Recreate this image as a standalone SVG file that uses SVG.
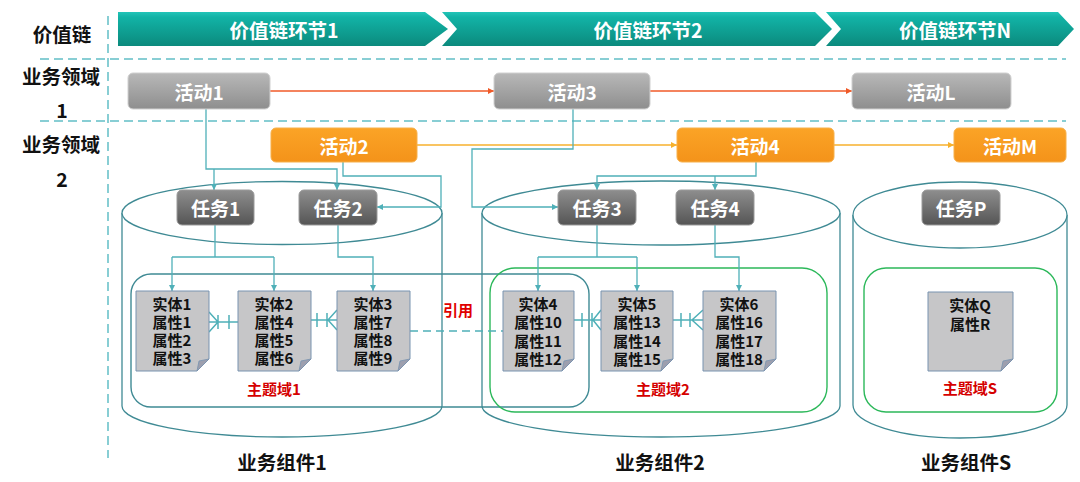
<svg xmlns="http://www.w3.org/2000/svg" width="1080" height="482" viewBox="0 0 1080 482">
<defs>
<linearGradient id="gHead" x1="0" y1="0" x2="0" y2="1"><stop offset="0" stop-color="#22c4b8"/><stop offset="0.15" stop-color="#12b3a6"/><stop offset="1" stop-color="#0b8a7d"/></linearGradient>
<linearGradient id="gAct" x1="0" y1="0" x2="0" y2="1"><stop offset="0" stop-color="#b8b8b8"/><stop offset="1" stop-color="#8e8e8e"/></linearGradient>
<linearGradient id="gOr" x1="0" y1="0" x2="0" y2="1"><stop offset="0" stop-color="#fba426"/><stop offset="1" stop-color="#f4931a"/></linearGradient>
<linearGradient id="gTask" x1="0" y1="0" x2="0" y2="1"><stop offset="0" stop-color="#8e8e8e"/><stop offset="1" stop-color="#555555"/></linearGradient>
<marker id="aT" viewBox="0 0 10 10" refX="10" refY="5" markerWidth="6" markerHeight="6" markerUnits="userSpaceOnUse" orient="auto"><path d="M0,0 L10,5 L0,10 Z" fill="#4fb0b8"/></marker>
<marker id="aR" viewBox="0 0 10 10" refX="10" refY="5" markerWidth="6" markerHeight="6" markerUnits="userSpaceOnUse" orient="auto"><path d="M0,0 L10,5 L0,10 Z" fill="#f05a28"/></marker>
<marker id="aO" viewBox="0 0 10 10" refX="10" refY="5" markerWidth="6" markerHeight="6" markerUnits="userSpaceOnUse" orient="auto"><path d="M0,0 L10,5 L0,10 Z" fill="#f7b12c"/></marker>
<style>
text{font-family:"Noto Sans CJK SC","Noto Sans",sans-serif;font-weight:bold;text-anchor:middle;dominant-baseline:central}
.lbl{font-size:19.5px;fill:#111}
.hd{font-size:19.5px;fill:#fff}
.btn{font-size:19px;fill:#fff}
.ent{font-size:15px;fill:#111}
.red{font-size:15px;fill:#d50000}
.comp{font-size:19.5px;fill:#111}
.dash{stroke:#62bfc6;stroke-width:1.5;stroke-dasharray:9,5;fill:none}
.cyl{fill:#fff;stroke:#3f8a94;stroke-width:1.3}
.tl{fill:none;stroke:#4fb0b8;stroke-width:1.3}
.rel{fill:none;stroke:#4fb0b8;stroke-width:1.5}
.page{fill:#c6c6c8;stroke:#7893b0;stroke-width:1}
.fold{fill:#9d9fae;stroke:#7893b0;stroke-width:0.8}
.act{fill:url(#gAct);stroke:#d0d0d0;stroke-width:1}
.or{fill:url(#gOr);stroke:#f7b04a;stroke-width:1}
.task{fill:url(#gTask);stroke:#9a9a9a;stroke-width:1}
</style>
</defs>
<rect width="1080" height="482" fill="#fff"/>

<g id="grid">
<path class="dash" d="M108,16 V458"/>
<path class="dash" d="M40,59 H1066"/>
<path class="dash" d="M40,121 H1066"/>
</g>

<g id="labels">
<text class="lbl" x="62" y="33">价值链</text>
<text class="lbl" x="61" y="75">业务领域</text>
<text class="lbl" x="62" y="109">1</text>
<text class="lbl" x="61" y="143">业务领域</text>
<text class="lbl" x="62" y="178">2</text>
</g>

<g id="stage1"><polygon points="118,12 425,12 448,29 425,46 118,46" fill="url(#gHead)"/><text class="hd" x="284" y="29">价值链环节1</text></g>
<g id="stage2"><polygon points="442,12 815,12 832,29 815,46 442,46 457,29" fill="url(#gHead)"/><text class="hd" x="648" y="29">价值链环节2</text></g>
<g id="stageN"><polygon points="826,12 1058,12 1074,29 1058,46 826,46 841,29" fill="url(#gHead)"/><text class="hd" x="955" y="29">价值链环节N</text></g>

<g id="comp1">
<path class="cyl" d="M122,213 V406 A160,31 0 0 0 442,406 V213"/>
<ellipse class="cyl" cx="282" cy="213" rx="160" ry="31.5"/>
<text class="comp" x="282" y="461">业务组件1</text>
</g>
<g id="comp2">
<path class="cyl" d="M482,213 V406 A179,31 0 0 0 840,406 V213"/>
<ellipse class="cyl" cx="661" cy="213" rx="179" ry="32"/>
<text class="comp" x="660" y="461">业务组件2</text>
</g>
<g id="compS">
<path class="cyl" d="M853,215 V405 A107,33 0 0 0 1067,405 V215"/>
<ellipse class="cyl" cx="960" cy="215" rx="107" ry="33"/>
<text class="comp" x="966" y="461">业务组件S</text>
</g>

<g id="domain1"><rect x="131" y="274" width="458" height="133" rx="20" fill="none" stroke="#3f8a94" stroke-width="1.4"/><text class="red" x="274" y="388">主题域1</text></g>
<g id="domain2"><rect x="490" y="268" width="337" height="144" rx="25" fill="none" stroke="#2cb85a" stroke-width="1.4"/><text class="red" x="663" y="388">主题域2</text></g>
<g id="domainS"><rect x="864" y="268" width="193" height="144" rx="22" fill="none" stroke="#2cb85a" stroke-width="1.4"/><text class="red" x="970" y="387">主题域S</text></g>

<g id="connectors">
<path d="M270,91 H494" stroke="#f05a28" stroke-width="1.3" fill="none" marker-end="url(#aR)"/>
<path d="M650,91 H852" stroke="#f05a28" stroke-width="1.3" fill="none" marker-end="url(#aR)"/>
<path d="M417,145 H677" stroke="#f7b12c" stroke-width="1.3" fill="none" marker-end="url(#aO)"/>
<path d="M834,145 H954" stroke="#f7b12c" stroke-width="1.3" fill="none" marker-end="url(#aO)"/>
<path class="tl" d="M206,109 V169 H337 V190" marker-end="url(#aT)"/>
<path class="tl" d="M214,169 V190" marker-end="url(#aT)"/>
<path class="tl" d="M343,162 V176 H441 V207 H377" marker-end="url(#aT)"/>
<path class="tl" d="M573,109 V149 H472 V207 H558" marker-end="url(#aT)"/>
<path class="tl" d="M756,162 V176 H597 V190" marker-end="url(#aT)"/>
<path class="tl" d="M715,176 V190" marker-end="url(#aT)"/>
<path class="tl" d="M215,225 V257"/>
<path class="tl" d="M172,257 H274"/>
<path class="tl" d="M172,257 V291" marker-end="url(#aT)"/>
<path class="tl" d="M274,257 V291" marker-end="url(#aT)"/>
<path class="tl" d="M338,225 V257 H373 V291" marker-end="url(#aT)"/>
<path class="tl" d="M597,225 V257"/>
<path class="tl" d="M538,257 H637"/>
<path class="tl" d="M538,257 V291" marker-end="url(#aT)"/>
<path class="tl" d="M637,257 V291" marker-end="url(#aT)"/>
<path class="tl" d="M715,225 V257 H739 V291" marker-end="url(#aT)"/>
<path class="rel" d="M209,322 H238 M209,312 L218,322 L209,332 M218,315 V329 M229,315 V329"/>
<path class="rel" d="M311,320 H337 M337,310 L328,320 L337,330 M317,313 V327 M327,313 V327"/>
<path class="rel" d="M574,320 H601 M601,310 L593,320 L601,330 M582,313 V327 M592,313 V327"/>
<path class="rel" d="M673,320 H703 M703,310 L692,320 L703,330 M681,313 V327 M690,313 V327"/>
<path d="M410,331 H503" stroke="#4fb0b8" stroke-width="1.5" stroke-dasharray="8,5" fill="none"/>
<text class="red" x="458" y="309" style="fill:#e00000">引用</text>
</g>

<g id="act1"><rect class="act" x="128" y="73" width="142" height="36" rx="5"/><text class="btn" x="199" y="91">活动1</text></g>
<g id="act3"><rect class="act" x="494" y="73" width="156" height="36" rx="5"/><text class="btn" x="572" y="91">活动3</text></g>
<g id="actL"><rect class="act" x="852" y="73" width="159" height="36" rx="5"/><text class="btn" x="931" y="91">活动L</text></g>
<g id="act2"><rect class="or" x="271" y="128" width="146" height="34" rx="5"/><text class="btn" x="344" y="145">活动2</text></g>
<g id="act4"><rect class="or" x="677" y="128" width="157" height="34" rx="5"/><text class="btn" x="755" y="145">活动4</text></g>
<g id="actM"><rect class="or" x="954" y="128" width="112" height="34" rx="5"/><text class="btn" x="1010" y="145">活动M</text></g>

<g id="task1"><rect class="task" x="177" y="190" width="77" height="35" rx="5"/><text class="btn" x="215.5" y="207.5">任务1</text></g>
<g id="task2"><rect class="task" x="299" y="190" width="78" height="35" rx="5"/><text class="btn" x="338" y="207.5">任务2</text></g>
<g id="task3"><rect class="task" x="558" y="190" width="78" height="35" rx="5"/><text class="btn" x="597" y="207.5">任务3</text></g>
<g id="task4"><rect class="task" x="676" y="190" width="78" height="35" rx="5"/><text class="btn" x="715" y="207.5">任务4</text></g>
<g id="taskP"><rect class="task" x="922" y="190" width="78" height="35" rx="5"/><text class="btn" x="961" y="207.5">任务P</text></g>

<g id="ent1"><path class="page" d="M136,291 H209 V359 L197,371 H136 Z"/><path class="fold" d="M209,359 L197,371 L199,361 Z"/>
<text class="ent" x="172" y="303">实体1<tspan x="172" dy="18">属性1</tspan><tspan x="172" dy="18">属性2</tspan><tspan x="172" dy="18">属性3</tspan></text></g>
<g id="ent2"><path class="page" d="M238,291 H311 V359 L299,371 H238 Z"/><path class="fold" d="M311,359 L299,371 L301,361 Z"/>
<text class="ent" x="274" y="303">实体2<tspan x="274" dy="18">属性4</tspan><tspan x="274" dy="18">属性5</tspan><tspan x="274" dy="18">属性6</tspan></text></g>
<g id="ent3"><path class="page" d="M337,291 H410 V359 L398,371 H337 Z"/><path class="fold" d="M410,359 L398,371 L400,361 Z"/>
<text class="ent" x="373" y="303">实体3<tspan x="373" dy="18">属性7</tspan><tspan x="373" dy="18">属性8</tspan><tspan x="373" dy="18">属性9</tspan></text></g>
<g id="ent4"><path class="page" d="M503,291 H574 V359 L562,371 H503 Z"/><path class="fold" d="M574,359 L562,371 L564,361 Z"/>
<text class="ent" x="538" y="303">实体4<tspan x="538" dy="18.3">属性10</tspan><tspan x="538" dy="18.3">属性11</tspan><tspan x="538" dy="18.3">属性12</tspan></text></g>
<g id="ent5"><path class="page" d="M601,291 H673 V359 L661,371 H601 Z"/><path class="fold" d="M673,359 L661,371 L663,361 Z"/>
<text class="ent" x="637" y="303">实体5<tspan x="637" dy="18.3">属性13</tspan><tspan x="637" dy="18.3">属性14</tspan><tspan x="637" dy="18.3">属性15</tspan></text></g>
<g id="ent6"><path class="page" d="M703,291 H776 V359 L764,371 H703 Z"/><path class="fold" d="M776,359 L764,371 L766,361 Z"/>
<text class="ent" x="739" y="303">实体6<tspan x="739" dy="18.3">属性16</tspan><tspan x="739" dy="18.3">属性17</tspan><tspan x="739" dy="18.3">属性18</tspan></text></g>
<g id="entQ"><path class="page" d="M928,292 H1013 V359 L1001,371 H928 Z"/><path class="fold" d="M1013,359 L1001,371 L1003,361 Z"/>
<text class="ent" x="970" y="304">实体Q<tspan x="970" dy="19">属性R</tspan></text></g>
</svg>
